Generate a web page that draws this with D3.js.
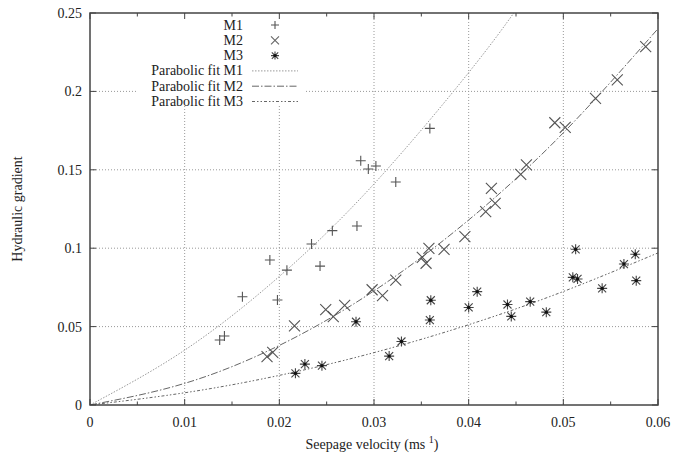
<!DOCTYPE html>
<html>
<head>
<meta charset="utf-8">
<script src="https://cdn.jsdelivr.net/npm/d3@7"></script>
<style>
  body { margin: 0; background: #fff; }
</style>
</head>
<body>
<div id="myPlot"></div>
<script>
// measured points [velocity, gradient]
const m1 = [[0.0137,0.0415],[0.0142,0.044],[0.0161,0.069],[0.0190,0.0925],[0.0198,0.067],[0.0208,0.086],
  [0.0234,0.1027],[0.0243,0.0886],[0.0256,0.1112],[0.0282,0.1142],[0.0286,0.1558],[0.0294,0.1505],
  [0.0302,0.1524],[0.0323,0.1422],[0.0359,0.1764]];
const m2 = [[0.0187,0.0308],[0.0193,0.0336],[0.0216,0.0504],[0.0249,0.0608],[0.0257,0.0563],[0.0269,0.0635],
  [0.0298,0.0735],[0.0309,0.0698],[0.0323,0.0797],[0.0351,0.0942],[0.0355,0.0904],[0.0358,0.0999],
  [0.0374,0.0993],[0.0396,0.1074],[0.0418,0.1233],[0.0428,0.1286],[0.0424,0.1382],[0.0455,0.1471],
  [0.0461,0.1531],[0.0491,0.180],[0.0502,0.177],[0.0534,0.1956],[0.0557,0.2073],[0.0587,0.2285]];
const m3 = [[0.0217,0.0202],[0.0227,0.0261],[0.0245,0.0251],[0.0281,0.0531],[0.0316,0.0312],[0.0329,0.0405],
  [0.0359,0.0542],[0.0360,0.0668],[0.0400,0.0622],[0.0409,0.0723],[0.0441,0.0641],[0.0445,0.0565],
  [0.0465,0.0659],[0.0482,0.0592],[0.0510,0.0814],[0.0515,0.0804],[0.0513,0.0993],[0.0541,0.0744],
  [0.0564,0.0899],[0.0576,0.0961],[0.0577,0.0793]];

// parabolic fit curves
const fit1 = [[0,0],[0.01,0.035],[0.02,0.082],[0.03,0.141],[0.04,0.212],[0.045,0.252]];
const fit2 = [[0,0],[0.01,0.0138],[0.02,0.038],[0.03,0.0728],[0.04,0.118],[0.05,0.1736],[0.06,0.240]];
const fit3 = [[0,0],[0.01,0.0078],[0.02,0.0189],[0.03,0.0334],[0.04,0.0512],[0.05,0.0724],[0.06,0.097]];

const xTicks = [0, 0.01, 0.02, 0.03, 0.04, 0.05, 0.06];
const xMinor = [0.005, 0.015, 0.025, 0.035, 0.045, 0.055];
const yTicks = [0, 0.05, 0.1, 0.15, 0.2, 0.25];
const legendNames = ["M1", "M2", "M3", "Parabolic fit M1", "Parabolic fit M2", "Parabolic fit M3"];

const W = 673, H = 457;
const pL = 90, pR = 658, pT = 13, pB = 405;
const serif = "'Liberation Serif', 'DejaVu Serif', 'Times New Roman', serif";

const svg = d3.select("#myPlot").append("svg")
  .attr("width", W).attr("height", H)
  .attr("font-family", serif);

const x = d3.scaleLinear().domain([0, 0.06]).range([pL, pR]);
const y = d3.scaleLinear().domain([0, 0.25]).range([pB, pT]);

// grid
const grid = svg.append("g").attr("stroke", "#999").attr("stroke-width", 1).attr("stroke-dasharray", "1,2");
xTicks.slice(1, -1).forEach(v => {
  grid.append("line").attr("x1", x(v)).attr("x2", x(v)).attr("y1", pT).attr("y2", pB);
});
yTicks.slice(1, -1).forEach(v => {
  grid.append("line").attr("x1", pL).attr("x2", pR).attr("y1", y(v)).attr("y2", y(v));
});

// fit lines
svg.append("clipPath").attr("id", "clip").append("rect")
  .attr("x", pL).attr("y", pT).attr("width", pR - pL).attr("height", pB - pT);
const line = d3.line().x(d => x(d[0])).y(d => y(d[1])).curve(d3.curveNatural);
const fits = [
  { data: fit1, dash: "1.5,1.5", color: "#999" },
  { data: fit2, dash: "7,2,1.5,2", color: "#666" },
  { data: fit3, dash: "3,2,1.5,2,1.5,2", color: "#666" }
];
fits.forEach(f => {
  svg.append("path").datum(f.data).attr("clip-path", "url(#clip)")
    .attr("d", line).attr("fill", "none")
    .attr("stroke", f.color).attr("stroke-width", 1).attr("stroke-dasharray", f.dash);
});

// symbols
function plus(g, s, col) {
  g.append("path").attr("d", `M${-s},0H${s}M0,${-s}V${s}`).attr("stroke", col).attr("stroke-width", 1.1);
}
function cross(g, s, col) {
  g.append("path").attr("d", `M${-s},${-s}L${s},${s}M${-s},${s}L${s},${-s}`).attr("stroke", col).attr("stroke-width", 1.1);
}
function star(g, s, col) {
  cross(g, s * 0.8, col);
  plus(g, s, col);
  g.append("circle").attr("r", 1.7).attr("fill", "#111");
}

function drawPoints(data, fn, s, col) {
  data.forEach(d => {
    const g = svg.append("g").attr("transform", `translate(${x(d[0])},${y(d[1])})`);
    fn(g, s, col);
  });
}
drawPoints(m1, plus, 5, "#555");
drawPoints(m2, cross, 5.5, "#555");
drawPoints(m3, star, 5, "#444");

// legend
const lg = svg.append("g");
lg.append("rect").attr("x", 136).attr("y", 16).attr("width", 168).attr("height", 90).attr("fill", "#fff");
legendNames.forEach((n, i) => {
  const ly = 25 + i * 15.3;
  lg.append("text").attr("x", 243).attr("y", ly + 4.5).attr("text-anchor", "end")
    .attr("font-size", 14).attr("fill", "#222").text(n);
  const g = lg.append("g").attr("transform", `translate(275,${ly})`);
  if (i === 0) plus(g, 4, "#555");
  else if (i === 1) cross(g, 4, "#666");
  else if (i === 2) star(g, 4, "#444");
  else {
    const f = fits[i - 3];
    g.append("line").attr("x1", -23).attr("x2", 23).attr("stroke", f.color)
      .attr("stroke-width", 1).attr("stroke-dasharray", f.dash);
  }
});

// frame and ticks
const frame = svg.append("g").attr("stroke", "#444");
frame.append("rect").attr("x", pL).attr("y", pT).attr("width", pR - pL).attr("height", pB - pT)
  .attr("fill", "none").attr("stroke-width", 1.5);
xTicks.forEach(v => {
  frame.append("line").attr("x1", x(v)).attr("x2", x(v)).attr("y1", pB).attr("y2", pB - 6);
  frame.append("line").attr("x1", x(v)).attr("x2", x(v)).attr("y1", pT).attr("y2", pT + 6);
});
xMinor.forEach(v => {
  frame.append("line").attr("x1", x(v)).attr("x2", x(v)).attr("y1", pB).attr("y2", pB - 3.5);
  frame.append("line").attr("x1", x(v)).attr("x2", x(v)).attr("y1", pT).attr("y2", pT + 3.5);
});
yTicks.forEach(v => {
  frame.append("line").attr("x1", pL).attr("x2", pL + 6).attr("y1", y(v)).attr("y2", y(v));
  frame.append("line").attr("x1", pR).attr("x2", pR - 6).attr("y1", y(v)).attr("y2", y(v));
});

// tick labels
svg.append("g").selectAll("text").data(xTicks).join("text")
  .attr("x", d => x(d)).attr("y", 427).attr("text-anchor", "middle")
  .attr("font-size", 14).attr("fill", "#222").text(d => d);
svg.append("g").selectAll("text").data(yTicks).join("text")
  .attr("x", 82).attr("y", d => y(d) + 5).attr("text-anchor", "end")
  .attr("font-size", 14).attr("fill", "#222").text(d => d);

// axis titles
const xt = svg.append("text").attr("x", 372).attr("y", 449).attr("text-anchor", "middle")
  .attr("font-size", 14).attr("fill", "#222");
xt.append("tspan").text("Seepage velocity (ms ");
xt.append("tspan").attr("dy", -6).attr("font-size", 10).text(" 1");
xt.append("tspan").attr("dy", 6).text(")");

svg.append("text").attr("transform", "translate(22,209) rotate(-90)").attr("text-anchor", "middle")
  .attr("font-size", 14).attr("fill", "#222").text("Hydraulic gradient");
</script>
</body>
</html>
